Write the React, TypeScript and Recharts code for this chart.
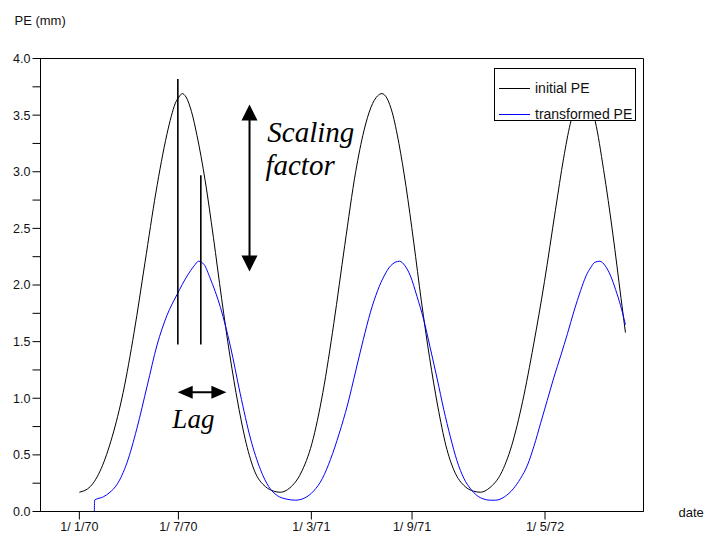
import React from 'react';
import {
  LineChart,
  Line,
  XAxis,
  YAxis,
  ReferenceLine,
  ReferenceDot,
  ReferenceArea,
  Legend,
} from 'recharts';

// Days elapsed since 1/1/70 and the matching potential evaporation (mm)
const initialDays = [
  0, 20, 40, 60, 80, 100, 120, 140, 160, 168, 175, 182, 188, 195, 205, 215, 230,
  245, 260, 275, 290, 305, 320, 340, 355, 367, 385, 405, 425, 445, 465, 485, 505,
  520, 533, 545, 553, 562, 572, 584, 597, 611, 625, 640, 655, 670, 685, 705, 720,
  733, 750, 770, 790, 810, 830, 850, 870, 885, 897, 908, 920, 932, 943, 958, 975,
  990, 998,
];
const initialPE = [
  0.17, 0.22, 0.38, 0.66, 1.05, 1.58, 2.2, 2.82, 3.33, 3.49, 3.6, 3.66, 3.69,
  3.66, 3.53, 3.32, 2.92, 2.42, 1.88, 1.38, 0.95, 0.6, 0.36, 0.22, 0.18, 0.17,
  0.21, 0.34, 0.6, 1.05, 1.66, 2.35, 3.0, 3.36, 3.57, 3.67, 3.69, 3.65, 3.52,
  3.25, 2.87, 2.38, 1.86, 1.36, 0.93, 0.58, 0.36, 0.22, 0.18, 0.17, 0.21, 0.33,
  0.58, 0.97, 1.47, 2.03, 2.66, 3.12, 3.42, 3.6, 3.69, 3.61, 3.44, 3.02, 2.45,
  1.88, 1.58,
];

const transformedDays = [
  27.4, 27.9, 44, 56, 69, 87, 105, 124, 142, 160, 179, 197, 210, 218, 228, 239,
  258, 276, 294, 313, 331, 346, 362, 378, 395, 412, 428, 444, 459, 475, 490, 505,
  519, 532, 545, 557, 569, 577, 585, 595, 605, 617, 629, 641, 654, 666, 678, 690,
  703, 715, 727, 739, 750, 761, 777, 793, 806, 819, 831, 843, 855, 867, 880, 892,
  904, 916, 926, 934, 942, 951, 961, 971, 980, 989, 998,
];
const transformedPE = [
  0, 0.1, 0.13, 0.17, 0.24, 0.43, 0.73, 1.11, 1.47, 1.73, 1.92, 2.08, 2.17, 2.21,
  2.18, 2.06, 1.8, 1.46, 1.04, 0.64, 0.37, 0.22, 0.14, 0.11, 0.1, 0.12, 0.18,
  0.29, 0.46, 0.69, 0.94, 1.24, 1.52, 1.76, 1.95, 2.08, 2.17, 2.2, 2.21, 2.17,
  2.08, 1.9, 1.7, 1.45, 1.17, 0.9, 0.66, 0.45, 0.29, 0.2, 0.14, 0.11, 0.1, 0.1,
  0.13, 0.2, 0.29, 0.41, 0.58, 0.78, 0.98, 1.18, 1.38, 1.57, 1.77, 1.95, 2.08,
  2.15, 2.2, 2.21, 2.17, 2.08, 1.96, 1.82, 1.65,
];

const dateTicks = [0, 181, 424, 608, 851];
const dateTickLabels = ['1/ 1/70', '1/ 7/70', '1/ 3/71', '1/ 9/71', '1/ 5/72'];
const dayDomain = [-71, 1031];

const peTicks = [
  0, 0.25, 0.5, 0.75, 1, 1.25, 1.5, 1.75, 2, 2.25, 2.5, 2.75, 3, 3.25, 3.5,
  3.75, 4,
];
const peDomain = [0, 4];

// Annotation anchors in (day, PE) units
const peakMarkers = [
  { day: 180, from: 1.475, to: 3.82 },
  { day: 222, from: 1.475, to: 2.97 },
];
const scalingArrow = { day: 311, from: 3.594, to: 2.12 };
const lagArrow = { fromDay: 179.7, toDay: 268.7, pe: 1.053 };
const notes = [
  { day: 343.5, pe: 3.267, text: 'Scaling', size: 29 },
  { day: 340, pe: 2.967, text: 'factor', size: 29 },
  { day: 170, pe: 0.735, text: 'Lag', size: 27 },
];

const initialData = initialDays.map((day, i) => ({ day, pe: initialPE[i] }));
const transformedData = transformedDays.map((day, i) => ({ day, pe: transformedPE[i] }));

const SANS = '"Liberation Sans", Arial, sans-serif';
const SERIF = '"Liberation Serif", "Times New Roman", serif';

const DoubleArrow = (props: any) => {
  const { x1, y1, x2, y2, head = 15, half = 7.5 } = props;
  const dx = x2 - x1;
  const dy = y2 - y1;
  const len = Math.hypot(dx, dy) || 1;
  const ux = dx / len;
  const uy = dy / len;
  const px = -uy;
  const py = ux;
  const tri = (tx: number, ty: number, sx: number, sy: number) => {
    const bx = tx - sx * head;
    const by = ty - sy * head;
    return `${tx},${ty} ${bx + px * half},${by + py * half} ${bx - px * half},${by - py * half}`;
  };
  return (
    <g>
      <line
        x1={x1 + ux * head * 0.6}
        y1={y1 + uy * head * 0.6}
        x2={x2 - ux * head * 0.6}
        y2={y2 - uy * head * 0.6}
        stroke="#000"
        strokeWidth={2}
      />
      <polygon points={tri(x2, y2, ux, uy)} fill="#000" />
      <polygon points={tri(x1, y1, -ux, -uy)} fill="#000" />
    </g>
  );
};

const noteShape = (text: string, size: number) => (p: any) => (
  <text
    x={p.cx}
    y={p.cy}
    fontFamily={SERIF}
    fontStyle="italic"
    fontSize={size}
    fill="#000"
  >
    {text}
  </text>
);

const renderLegend = (props: any) => {
  const items = props.payload || [];
  return (
    <div
      style={{
        width: 142,
        height: 53,
        border: '1px solid #000',
        background: '#fff',
        fontFamily: SANS,
        fontSize: 14,
        color: '#111',
        boxSizing: 'border-box',
        paddingTop: 6,
      }}
    >
      {items.map((it: any) => (
        <div
          key={it.value}
          style={{ display: 'flex', alignItems: 'center', height: 26, whiteSpace: 'nowrap' }}
        >
          <span
            style={{
              display: 'inline-block',
              width: 31,
              height: 0,
              borderTop: `1px solid ${it.color}`,
              marginLeft: 4,
              marginRight: 5,
            }}
          />
          <span>{it.value}</span>
        </div>
      ))}
    </div>
  );
};

export default function App() {
  return (
    <div style={{ position: 'absolute', left: 0, top: 0, background: '#fff' }}>
      <LineChart
        width={705}
        height={535}
        margin={{ top: 58.5, right: 61.5, bottom: 0, left: 0.5 }}
      >
        <XAxis
          dataKey="day"
          type="number"
          domain={dayDomain}
          ticks={dateTicks}
          interval={0}
          allowDataOverflow
          tickFormatter={(v: number) => dateTickLabels[dateTicks.indexOf(v)] ?? ''}
          height={23.5}
          tickSize={8}
          tickMargin={3}
          stroke="#000"
          tick={{ fill: '#111', fontFamily: SANS, fontSize: 12.5 }}
          label={{
            content: ({ viewBox }: any) => (
              <text
                x={viewBox.x + viewBox.width + 35}
                y={viewBox.y + 5}
                fontFamily={SANS}
                fontSize={13}
                fill="#111"
              >
                date
              </text>
            ),
          }}
        />
        <YAxis
          type="number"
          domain={peDomain}
          ticks={peTicks}
          interval={0}
          allowDataOverflow
          width={40}
          tickSize={8}
          tickMargin={2}
          stroke="#000"
          tickFormatter={(v: number) => (Math.round(v * 100) % 50 === 0 ? v.toFixed(1) : '')}
          tick={{ fill: '#111', fontFamily: SANS, fontSize: 12.5 }}
          label={{
            content: ({ viewBox }: any) => (
              <text
                x={viewBox.x + 14}
                y={viewBox.y - 34}
                fontFamily={SANS}
                fontSize={13}
                fill="#111"
              >
                PE (mm)
              </text>
            ),
          }}
        />
        <ReferenceArea
          x1={dayDomain[0]}
          x2={dayDomain[1]}
          y1={peDomain[0]}
          y2={peDomain[1]}
          fill="none"
          stroke="#000"
          strokeWidth={1}
          ifOverflow="visible"
        />
        <Line
          data={initialData}
          dataKey="pe"
          name="initial PE"
          type="monotone"
          stroke="#000"
          strokeWidth={1}
          dot={false}
          activeDot={false}
          isAnimationActive={false}
        />
        <Line
          data={transformedData}
          dataKey="pe"
          name="transformed PE"
          type="monotone"
          stroke="#0000ff"
          strokeWidth={1}
          dot={false}
          activeDot={false}
          isAnimationActive={false}
        />
        {peakMarkers.map((m) => (
          <ReferenceLine
            key={m.day}
            segment={[
              { x: m.day, y: m.from },
              { x: m.day, y: m.to },
            ]}
            stroke="#000"
            strokeWidth={1.6}
          />
        ))}
        <ReferenceLine
          segment={[
            { x: scalingArrow.day, y: scalingArrow.from },
            { x: scalingArrow.day, y: scalingArrow.to },
          ]}
          shape={(p: any) => <DoubleArrow {...p} head={16} half={8} />}
        />
        <ReferenceLine
          segment={[
            { x: lagArrow.fromDay, y: lagArrow.pe },
            { x: lagArrow.toDay, y: lagArrow.pe },
          ]}
          shape={(p: any) => <DoubleArrow {...p} head={15} half={6.5} />}
        />
        {notes.map((n) => (
          <ReferenceDot
            key={n.text}
            x={n.day}
            y={n.pe}
            r={0}
            shape={noteShape(n.text, n.size)}
          />
        ))}
        <Legend
          layout="vertical"
          verticalAlign="middle"
          align="center"
          content={renderLegend}
          wrapperStyle={{ left: 494, top: 68, width: 142, height: 53 }}
        />
      </LineChart>
    </div>
  );
}
